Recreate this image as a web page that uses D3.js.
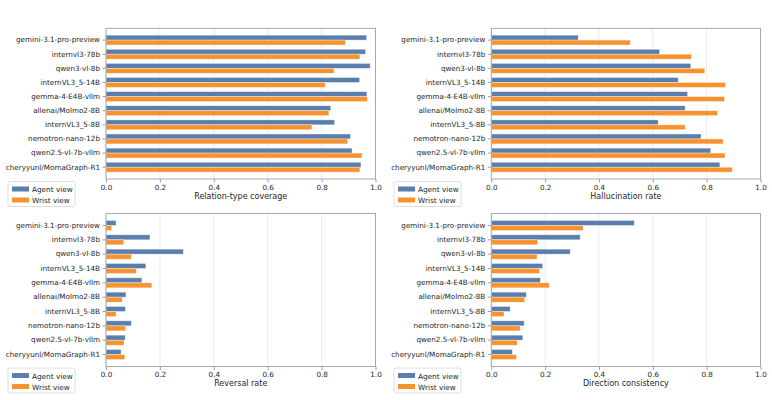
<!DOCTYPE html>
<html>
<head>
<meta charset="utf-8">
<script src="https://cdn.jsdelivr.net/npm/d3@7"></script>
<style>
  body { margin: 0; background: #fff; }
  text { font-family: "DejaVu Sans", sans-serif; fill: #262626; }
</style>
</head>
<body>
<div id="chart"></div>
<script>
// models, top to bottom
var categories = ["gemini-3.1-pro-preview", "internvl3-78b", "qwen3-vl-8b", "internVL3_5-14B",
  "gemma-4-E4B-vllm", "allenai/Molmo2-8B", "internVL3_5-8B", "nemotron-nano-12b",
  "qwen2.5-vl-7b-vllm", "cheryyunl/MomaGraph-R1"];
var seriesNames = ["Agent view", "Wrist view"];
var xTicks = [0, 0.2, 0.4, 0.6, 0.8, 1.0];

var coverageAgent = [0.967, 0.963, 0.980, 0.941, 0.968, 0.834, 0.848, 0.907, 0.913, 0.946];
var coverageWrist = [0.888, 0.942, 0.846, 0.813, 0.970, 0.827, 0.764, 0.897, 0.950, 0.942];

var hallucAgent = [0.323, 0.625, 0.741, 0.694, 0.729, 0.720, 0.620, 0.779, 0.815, 0.849];
var hallucWrist = [0.516, 0.744, 0.793, 0.870, 0.866, 0.841, 0.720, 0.861, 0.868, 0.895];

var reversalAgent = [0.037, 0.163, 0.287, 0.148, 0.133, 0.074, 0.072, 0.094, 0.071, 0.056];
var reversalWrist = [0.021, 0.066, 0.094, 0.112, 0.170, 0.060, 0.037, 0.073, 0.067, 0.070];

var directionAgent = [0.531, 0.330, 0.293, 0.191, 0.182, 0.130, 0.070, 0.122, 0.117, 0.078];
var directionWrist = [0.341, 0.172, 0.170, 0.179, 0.215, 0.124, 0.047, 0.107, 0.096, 0.093];

var colors = ["#5a7fae", "#f7932f"];

var svg = d3.select("#chart").append("svg")
  .attr("width", 772)
  .attr("height", 400);

function drawPanel(opt) {
  var x = d3.scaleLinear().domain([0, 1]).range([opt.left, opt.right]);
  // bar groups: inner padding 0.3, matplotlib-like outer margin
  var y = d3.scaleBand().domain(categories)
    .range([opt.top, opt.bottom])
    .paddingInner(0.3).paddingOuter(0.485);
  var ySub = d3.scaleBand().domain(seriesNames).range([0, y.bandwidth()]);

  var g = svg.append("g");

  // grid
  g.selectAll(".grid").data(xTicks).enter().append("line")
    .attr("x1", function(d){ return x(d); })
    .attr("x2", function(d){ return x(d); })
    .attr("y1", opt.top).attr("y2", opt.bottom)
    .attr("stroke", "#e6e6e6").attr("stroke-width", 0.8);

  var series = [opt.agent, opt.wrist];
  series.forEach(function(vals, s){
    g.selectAll(".bar" + s).data(vals).enter().append("rect")
      .attr("x", x(0))
      .attr("y", function(d, i){ return y(categories[i]) + ySub(seriesNames[s]); })
      .attr("width", function(d){ return x(d) - x(0); })
      .attr("height", ySub.bandwidth())
      .attr("fill", colors[s])
      .attr("stroke", "#ffffff").attr("stroke-opacity", 0.6).attr("stroke-width", 0.6);
  });

  // frame
  g.append("rect")
    .attr("x", opt.left).attr("y", opt.top)
    .attr("width", opt.right - opt.left).attr("height", opt.bottom - opt.top)
    .attr("fill", "none").attr("stroke", "#a0a0a0").attr("stroke-width", 0.9);

  var xAxis = g.append("g")
    .attr("transform", "translate(0," + opt.bottom + ")")
    .call(d3.axisBottom(x).tickValues(xTicks).tickFormat(d3.format(".1f")).tickSize(3.5).tickPadding(2));
  var yAxis = g.append("g")
    .attr("transform", "translate(" + opt.left + ",0)")
    .call(d3.axisLeft(y).tickSize(3.5).tickPadding(2.5));
  [xAxis, yAxis].forEach(function(a){
    a.select(".domain").remove();
    a.selectAll("line").attr("stroke", "#a0a0a0");
    a.selectAll("text").attr("font-size", 7.2).attr("font-family", "DejaVu Sans").attr("fill", "#262626");
  });

  g.append("text")
    .attr("x", (opt.left + opt.right) / 2)
    .attr("y", opt.bottom + 19.5)
    .attr("text-anchor", "middle")
    .attr("font-size", 8)
    .text(opt.label);

  // legend
  var lg = g.append("g").attr("transform", "translate(" + opt.legendX + "," + opt.legendY + ")");
  lg.append("rect")
    .attr("width", 67).attr("height", 25).attr("rx", 2)
    .attr("fill", "#fff").attr("fill-opacity", 0.8)
    .attr("stroke", "#d6d6d6").attr("stroke-width", 0.8);
  seriesNames.forEach(function(n, i){
    lg.append("rect")
      .attr("x", 4).attr("y", 5 + i * 11)
      .attr("width", 17).attr("height", 5)
      .attr("fill", colors[i]);
    lg.append("text")
      .attr("x", 24).attr("y", 10.5 + i * 11)
      .attr("font-size", 7.3)
      .text(n);
  });
}

drawPanel({left: 106, right: 375.5, top: 28.3, bottom: 179, agent: coverageAgent, wrist: coverageWrist,
  label: "Relation-type coverage", legendX: 8, legendY: 181.5});
drawPanel({left: 491.3, right: 760.5, top: 28.3, bottom: 179, agent: hallucAgent, wrist: hallucWrist,
  label: "Hallucination rate", legendX: 394, legendY: 181.5});
drawPanel({left: 106, right: 375.5, top: 213.5, bottom: 366.5, agent: reversalAgent, wrist: reversalWrist,
  label: "Reversal rate", legendX: 8, legendY: 368});
drawPanel({left: 491.3, right: 760.5, top: 213.5, bottom: 366.5, agent: directionAgent, wrist: directionWrist,
  label: "Direction consistency", legendX: 394, legendY: 368});
</script>
</body>
</html>
